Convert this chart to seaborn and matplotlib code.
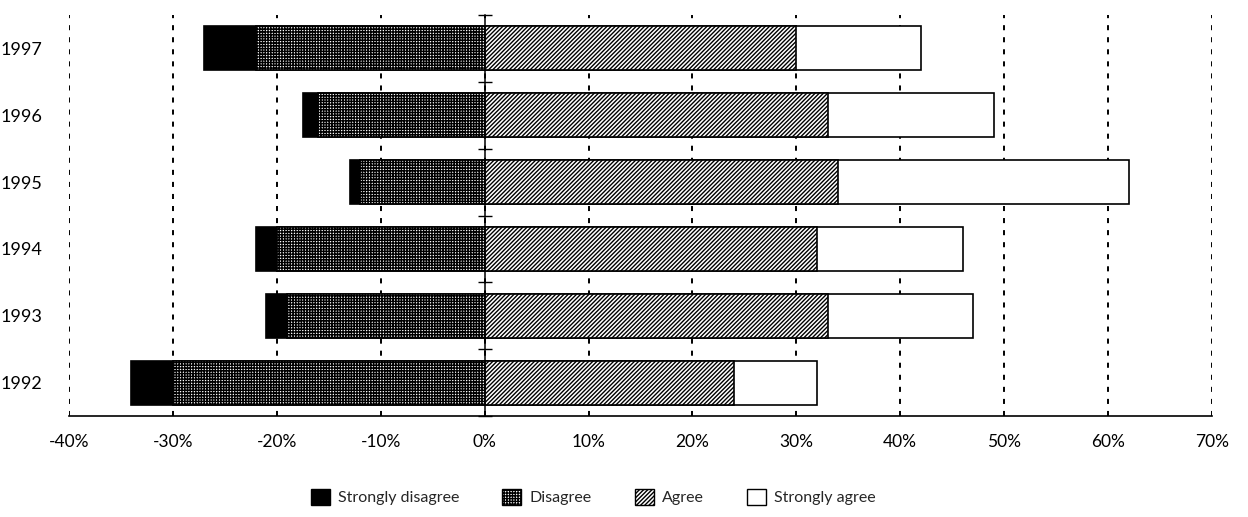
import matplotlib
matplotlib.use("Agg")
import matplotlib.pyplot as plt
import seaborn as sns
import numpy as np
import pandas as pd
from matplotlib.patches import Patch

# Survey responses by year (percent of respondents)
years = ["1997", "1996", "1995", "1994", "1993", "1992"]
strongly_disagree = [5, 1.5, 1, 2, 2, 4]
disagree = [22, 16, 12, 20, 19, 30]
agree = [30, 33, 34, 32, 33, 24]
strongly_agree = [12, 16, 28, 14, 14, 8]
x_ticks = [-40, -30, -20, -10, 0, 10, 20, 30, 40, 50, 60, 70]
legend_labels = ["Strongly disagree", "Disagree", "Agree", "Strongly agree"]

sns.set_theme(style="white")
plt.rcParams["font.family"] = ["Lato", "DejaVu Sans"]
plt.rcParams["hatch.linewidth"] = 1.0
plt.rcParams["hatch.color"] = "black"

HATCH_DIS = "++++++"
HATCH_AGREE = "////////"

df = pd.DataFrame({
    "year": years,
    "sd": strongly_disagree,
    "d": disagree,
    "a": agree,
    "sa": strongly_agree,
})
# Diverging stack: overlay cumulative bars so each segment shows
df["neg_total"] = -(df["sd"] + df["d"])
df["neg_dis"] = -df["d"]
df["pos_total"] = df["a"] + df["sa"]
df["pos_agree"] = df["a"]

W, H = 1248, 517
fig = plt.figure(figsize=(W / 100, H / 100), dpi=100)
ax = fig.add_axes([69 / W, 1 - 416 / H, (1212 - 69) / W, (416 - 15) / H])

layers = [
    ("neg_total", "black", None, None),
    ("neg_dis", "white", HATCH_DIS, 1.05),
    ("pos_total", "white", None, None),
    ("pos_agree", "white", HATCH_AGREE, 1.0),
]
for col, color, hatch, hlw in layers:
    sns.barplot(data=df, x=col, y="year", order=years, orient="h",
                color=color, saturation=1, width=0.66,
                edgecolor="black", linewidth=1.2, ax=ax, zorder=3)
    if hatch:
        for bar in ax.containers[-1]:
            bar.set_hatch(hatch)
            if hasattr(bar, "set_hatch_linewidth"):
                bar.set_hatch_linewidth(hlw)

ax.set_xlim(x_ticks[0], x_ticks[-1])
ax.set_ylim(len(years) - 0.5, -0.5)
ax.set_xticks(x_ticks)
ax.set_xticklabels([f"{v}%" for v in x_ticks], fontsize=12.5)
ax.set_xlabel("")
ax.set_ylabel("")
ax.tick_params(axis="x", direction="inout", length=10, width=1.1,
               color="black", pad=8, labelcolor="black")
ax.tick_params(axis="y", length=0, pad=19, labelsize=13, labelcolor="black")

ax.set_axisbelow(True)
ax.grid(axis="x", color="black", linestyle=(0, (2.6, 3.6)), linewidth=1.4)
ax.grid(axis="y", visible=False)
for side in ["top", "left", "right"]:
    ax.spines[side].set_visible(False)
ax.spines["bottom"].set_color("black")
ax.spines["bottom"].set_linewidth(1.2)

# Zero axis with tick marks between the year rows
zero_pos = (0 - x_ticks[0]) / (x_ticks[-1] - x_ticks[0])
sec = ax.secondary_yaxis(zero_pos)
sec.set_yticks(np.arange(len(years) + 1) - 0.5)
sec.set_yticklabels([])
sec.tick_params(direction="inout", length=10, width=1.0, color="black")
sec.spines["left"].set_color("black")
sec.spines["left"].set_linewidth(1.1)
sec.set_zorder(4)

handles = [
    Patch(facecolor="black", edgecolor="black", linewidth=1.0),
    Patch(facecolor="white", edgecolor="black", linewidth=1.0, hatch=HATCH_DIS),
    Patch(facecolor="white", edgecolor="black", linewidth=1.0, hatch=HATCH_AGREE),
    Patch(facecolor="white", edgecolor="black", linewidth=1.0),
]
fig.legend(handles, legend_labels, loc="center", ncol=4, frameon=False,
           bbox_to_anchor=(593 / W, 1 - 497 / H), fontsize=11.5,
           handlelength=1.2, handleheight=1.2, handletextpad=0.5,
           columnspacing=2.7)

fig.savefig("out.png", dpi=100)
